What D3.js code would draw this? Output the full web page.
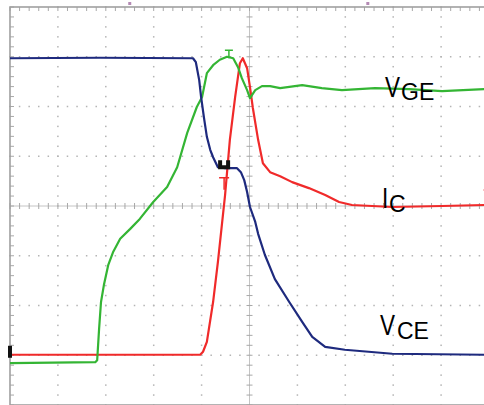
<!DOCTYPE html>
<html>
<head>
<meta charset="utf-8">
<script src="https://cdn.jsdelivr.net/npm/d3@7"></script>
<style>
  body { margin: 0; background: #fff; }
  svg { display: block; }
</style>
</head>
<body>
<script>
    // Scope traces, time in divisions (0..10), level in divisions (-4..4)
    const vceTrace = [
      [0, 2.97], [1.88, 2.98], [3.82, 2.97], [3.88, 2.89], [3.95, 2.53], [3.99, 2.19],
      [4.05, 1.77], [4.11, 1.39], [4.18, 1.13], [4.24, 0.98], [4.34, 0.78], [4.49, 0.76],
      [4.74, 0.76], [4.82, 0.68], [4.89, 0.52], [4.95, 0.28], [5.01, -0.02], [5.12, -0.32],
      [5.18, -0.56], [5.32, -0.98], [5.53, -1.47], [5.83, -1.93], [6.10, -2.33], [6.31, -2.63],
      [6.58, -2.83], [6.99, -2.89], [7.98, -2.97], [9.9, -2.99]
    ];
    const vgeTrace = [
      [0, -3.16], [1.78, -3.14], [1.82, -3.10], [1.86, -2.47], [1.90, -1.93], [1.96, -1.59],
      [2.05, -1.19], [2.15, -0.93], [2.30, -0.66], [2.51, -0.46], [2.71, -0.26], [2.99, 0.08],
      [3.28, 0.38], [3.49, 0.78], [3.70, 1.47], [3.90, 1.99], [4.01, 2.19], [4.11, 2.67],
      [4.24, 2.83], [4.38, 2.94], [4.53, 3.00], [4.66, 2.97], [4.76, 2.79], [4.84, 2.57],
      [4.95, 2.33], [5.01, 2.17], [5.12, 2.33], [5.26, 2.41], [5.43, 2.41], [5.64, 2.37],
      [6.10, 2.43], [6.51, 2.37], [6.93, 2.33], [7.62, 2.37], [8.33, 2.35], [9.02, 2.31],
      [9.9, 2.35]
    ];
    const icTrace = [
      [0, -2.99], [3.97, -2.99], [4.03, -2.93], [4.11, -2.73], [4.24, -1.93], [4.34, -1.13],
      [4.43, -0.32], [4.49, 0.22], [4.59, 1.33], [4.70, 2.19], [4.80, 2.87], [4.86, 2.97],
      [4.95, 2.77], [5.01, 2.39], [5.07, 1.97], [5.18, 1.33], [5.28, 0.86], [5.43, 0.68],
      [5.64, 0.60], [5.89, 0.48], [6.24, 0.36], [6.58, 0.22], [6.87, 0.08], [7.14, 0.02],
      [7.98, -0.02], [9.02, 0], [9.9, 0.02]
    ];

    const width = 484;
    const height = 405;

    const x = d3.scaleLinear().domain([0, 10]).range([10, 489]);
    const y = d3.scaleLinear().domain([-4, 4]).range([405, 7]);

    const svg = d3.select("body")
      .append("svg")
      .attr("width", width)
      .attr("height", height);

    const grid = svg.append("g");
    const minor = d3.range(0, 50.01, 1).map(i => i / 5);
    const minorY = d3.range(-20, 20.01, 1).map(i => i / 5);

    // dotted grid lines
    [1, 2, 3, 4, 6, 7, 8, 9].forEach(v => {
      grid.selectAll(null)
        .data(minorY)
        .enter()
        .append("rect")
        .attr("x", x(v) - 0.75)
        .attr("y", d => y(d) - 0.75)
        .attr("width", 1.5)
        .attr("height", 1.5)
        .attr("fill", "#b4b4b4");
    });
    [-3, -2, -1, 1, 2, 3].forEach(v => {
      grid.selectAll(null)
        .data(minor)
        .enter()
        .append("rect")
        .attr("x", d => x(d) - 0.75)
        .attr("y", y(v) - 0.75)
        .attr("width", 1.5)
        .attr("height", 1.5)
        .attr("fill", "#b4b4b4");
    });

    // centre axes with minor ticks
    grid.append("line")
      .attr("x1", x(0)).attr("x2", x(10))
      .attr("y1", y(0)).attr("y2", y(0))
      .attr("stroke", "#c4c4c4").attr("stroke-width", 1);
    grid.append("line")
      .attr("x1", x(5)).attr("x2", x(5))
      .attr("y1", y(4)).attr("y2", y(-4))
      .attr("stroke", "#c4c4c4").attr("stroke-width", 1);
    grid.selectAll(null)
      .data(minor)
      .enter()
      .append("line")
      .attr("x1", d => x(d)).attr("x2", d => x(d))
      .attr("y1", y(0) - 3).attr("y2", y(0) + 3)
      .attr("stroke", "#a8a8a8");
    grid.selectAll(null)
      .data(minorY)
      .enter()
      .append("line")
      .attr("x1", x(5) - 3).attr("x2", x(5) + 3)
      .attr("y1", d => y(d)).attr("y2", d => y(d))
      .attr("stroke", "#a8a8a8");

    // border with ticks
    grid.selectAll(null)
      .data(minor)
      .enter()
      .append("line")
      .attr("x1", d => x(d)).attr("x2", d => x(d))
      .attr("y1", y(4)).attr("y2", y(4) + 4)
      .attr("stroke", "#a8a8a8");
    grid.selectAll(null)
      .data(minorY)
      .enter()
      .append("line")
      .attr("x1", x(0)).attr("x2", x(0) + 4)
      .attr("y1", d => y(d)).attr("y2", d => y(d))
      .attr("stroke", "#a8a8a8");
    grid.append("rect")
      .attr("x", x(0)).attr("y", y(4))
      .attr("width", x(10) - x(0)).attr("height", y(-4) - y(4))
      .attr("fill", "none")
      .attr("stroke", "#a0a0a0")
      .attr("stroke-width", 1.6);

    // traces
    const line = d3.line()
      .x(d => x(d[0]))
      .y(d => y(d[1]));

    const traces = [
      { data: icTrace, color: "#f02a2a" },
      { data: vgeTrace, color: "#34b534" },
      { data: vceTrace, color: "#1e2a7e" }
    ];

    svg.selectAll("path.trace")
      .data(traces)
      .enter()
      .append("path")
      .attr("class", "trace")
      .attr("d", d => line(d.data))
      .attr("fill", "none")
      .attr("stroke", d => d.color)
      .attr("stroke-width", 2.2)
      .attr("stroke-linejoin", "round");

    // cursor / trigger markers
    const gT = [4.57, 3.13];
    svg.append("path")
      .attr("d", `M${x(gT[0]) - 4},${y(gT[1])}H${x(gT[0]) + 4}M${x(gT[0])},${y(gT[1])}V${y(gT[1]) + 8}`)
      .attr("stroke", "#34b534").attr("stroke-width", 1.5).attr("fill", "none");
    const rT = [4.47, 0.57];
    svg.append("path")
      .attr("d", `M${x(rT[0]) - 5},${y(rT[1])}H${x(rT[0]) + 5}M${x(rT[0])},${y(rT[1])}V${y(rT[1]) + 12}`)
      .attr("stroke", "#f02a2a").attr("stroke-width", 1.5).attr("fill", "none");
    const trig = [4.47, 0.82];
    svg.append("path")
      .attr("d", `M${x(trig[0]) - 6},${y(trig[1]) - 5}h4v5h4v-5h4v9h-12z`)
      .attr("fill", "#111");
    svg.append("rect")
      .attr("x", x(0) - 2).attr("y", y(-2.93) - 6)
      .attr("width", 4).attr("height", 12)
      .attr("fill", "#111");
    svg.append("path")
      .attr("d", `M${x(9.88)},${y(0.32)}l5,-5v10z`)
      .attr("fill", "#f02a2a");
    [2.5, 7.47].forEach(t => {
      svg.append("rect")
        .attr("x", x(t) - 1.5).attr("y", 2)
        .attr("width", 3).attr("height", 3)
        .attr("fill", "#b48ab4");
    });

    // labels
    const labels = [
      { main: "V", sub: "GE", x: 385, y: 97, sx: 401, sy: 100 },
      { main: "I", sub: "C", x: 382, y: 208, sx: 389, sy: 212 },
      { main: "V", sub: "CE", x: 380, y: 335, sx: 397, sy: 339 }
    ];
    labels.forEach(l => {
      svg.append("text")
        .attr("transform", `translate(${l.x},${l.y}) scale(0.75,1)`)
        .attr("font-family", "Liberation Sans, Arial, sans-serif")
        .attr("font-size", 30)
        .attr("fill", "#000")
        .text(l.main);
      svg.append("text")
        .attr("x", l.sx).attr("y", l.sy)
        .attr("font-family", "Liberation Sans, Arial, sans-serif")
        .attr("font-size", 23)
        .attr("fill", "#000")
        .text(l.sub);
    });
</script>
</body>
</html>
